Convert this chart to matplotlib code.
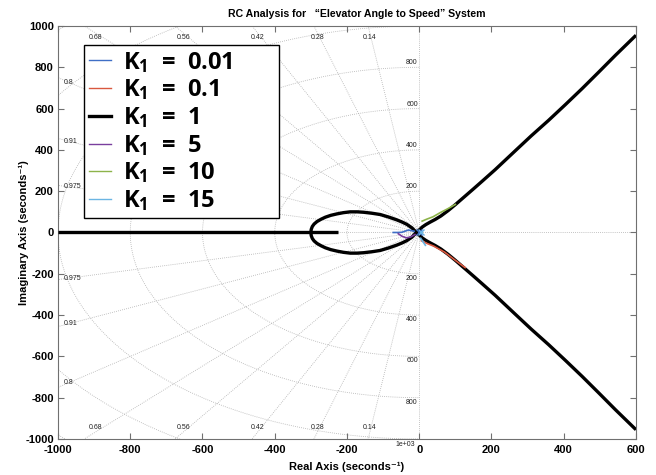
import numpy as np
import matplotlib
matplotlib.use("Agg")
import matplotlib.pyplot as plt
from matplotlib.lines import Line2D

plt.rcParams['mathtext.fontset'] = 'custom'
plt.rcParams['mathtext.rm'] = 'Open Sans:bold'
plt.rcParams['mathtext.bf'] = 'Open Sans:bold'
plt.rcParams['mathtext.it'] = 'Open Sans:bold'

# ---- axes ranges and ticks ----
x_ticks = [-1000, -800, -600, -400, -200, 0, 200, 400, 600]
y_ticks = [-1000, -800, -600, -400, -200, 0, 200, 400, 600, 800, 1000]

# ---- s-plane grid: damping ratios and natural frequencies ----
zeta_vals = [0.14, 0.28, 0.42, 0.56, 0.68, 0.8, 0.91, 0.975]
zeta_labels = ['0.14', '0.28', '0.42', '0.56', '0.68', '0.8', '0.91', '0.975']
wn_vals = [200, 400, 600, 800, 1000, 1200, 1400]
wn_text_vals = [200, 400, 600, 800]
wn_text = ['200', '400', '600', '800']

# ---- root locus, K1 = 1 ----
k1_real_x = [-1000, -225]
k1_real_y = [0, 0]
k1_loop_x = [-8, -20, -34, -48, -62, -85, -108, -130, -154, -172, -191,
             -210, -228, -245, -260, -272, -283, -291, -296, -299, -300]
k1_loop_y = [0, 22, 39, 51, 61, 75, 87, 93, 98, 100, 100,
             96, 90, 83, 74, 64, 53, 41, 29, 15, 0]
k1_branch_x = [-8, 0, 8, 18, 30, 44, 60, 80, 100, 125, 150, 174, 210,
               266, 310, 358, 405, 451, 497, 543, 600]
k1_branch_y = [0, 12, 26, 38, 50, 63, 80, 106, 135, 173, 211, 248, 304,
               396, 468, 543, 620, 697, 777, 858, 955]

# ---- root locus fragments for the other gains ----
k001_x = [-72, -60, -48, -30, -14]
k001_y = [0, 0, 1, 12, 6]
k01_x = [6, 20, 40, 70, 100, 127]
k01_y = [-40, -52, -66, -95, -135, -170]
k5_x = [-58, -48, -36, -24, -12]
k5_y = [-6, -18, -26, -22, -10]
k10_x = [8, 20, 38, 58, 80, 100]
k10_y = [55, 64, 76, 96, 116, 136]
k15_x = [4, 10, 17]
k15_y = [-28, -44, -62]

labels = [r"$\mathbf{K_1}$  =  0.01", r"$\mathbf{K_1}$  =  0.1", r"$\mathbf{K_1}$  =  1",
          r"$\mathbf{K_1}$  =  5", r"$\mathbf{K_1}$  =  10", r"$\mathbf{K_1}$  =  15"]
colors = ['#3f6fc6', '#d9583f', '#000000', '#7a3f9e', '#8db34a', '#6bb5e3']
widths = [1.0, 1.0, 2.4, 1.0, 1.0, 1.0]

fig = plt.figure(figsize=(6.56, 4.75), dpi=100)
ax = fig.add_axes([0.0884, 0.0758, 0.8811, 0.8695])
ax.set_xlim(-1000, 600)
ax.set_ylim(-1000, 1000)

grid_kw = dict(color='#b0b0b0', lw=0.6, ls=(0, (1, 1.5)), zorder=1)
lab_kw = dict(fontsize=5, family='Liberation Sans', color='#222222', zorder=2)

# damping-ratio rays in the left half plane
for z, lab in zip(zeta_vals, zeta_labels):
    slope = np.sqrt(1 - z**2) / z
    for sgn in (1, -1):
        x_end = max(-1000, -1000 / slope)
        ax.plot([0, x_end], [0, sgn * slope * -x_end], **grid_kw)
    if 1000 / slope <= 1000:
        xl = -0.965 * 1000 / slope
        for sgn in (1, -1):
            ax.text(xl, sgn * 944, lab, ha='center', va='center', **lab_kw)
    else:
        yl = 0.97 * 1000 * slope
        for sgn in (1, -1):
            ax.text(-985, sgn * yl, lab, ha='left', va='center', **lab_kw)

# natural-frequency arcs
th = np.linspace(np.pi / 2, 3 * np.pi / 2, 400)
for wn in wn_vals:
    ax.plot(wn * np.cos(th), wn * np.sin(th), **grid_kw)
for wn, lab in zip(wn_text_vals, wn_text):
    ax.text(-4, wn + 4, lab, ha='right', va='bottom', **lab_kw)
    ax.text(-4, -wn - 4, lab, ha='right', va='top', **lab_kw)
ax.text(-12, -1010, '1e+03', ha='right', va='top', clip_on=False, **lab_kw)

# real and imaginary axes
ax.axhline(0, **grid_kw)
ax.axvline(0, **grid_kw)

# K1 = 1 locus
kw1 = dict(color=colors[2], lw=widths[2], solid_capstyle='butt',
           solid_joinstyle='round', zorder=4)
ax.plot(k1_real_x, k1_real_y, **kw1)
ax.plot(k1_loop_x, k1_loop_y, **kw1)
ax.plot(k1_loop_x, [-v for v in k1_loop_y], **kw1)
ax.plot(k1_branch_x, k1_branch_y, **kw1)
ax.plot(k1_branch_x, [-v for v in k1_branch_y], **kw1)

# other gains
frag = [(k001_x, k001_y, 0), (k01_x, k01_y, 1), (k5_x, k5_y, 3),
        (k10_x, k10_y, 4), (k15_x, k15_y, 5)]
for xs, ys, i in frag:
    ax.plot(xs, ys, color=colors[i], lw=1.2, zorder=5)
ax.plot([0], [0], marker='x', ms=4, mew=1, color=colors[0], zorder=6)
ax.plot([6], [0], marker='x', ms=4, mew=1, color=colors[5], zorder=6)

# ticks and frame
ax.set_xticks(x_ticks)
ax.set_yticks(y_ticks)
ax.set_xticklabels([str(v) for v in x_ticks])
ax.set_yticklabels([str(v) for v in y_ticks])
ax.tick_params(direction='in', length=4, width=0.8, color='#707070',
               top=True, right=True, labelsize=8, pad=3)
ax.tick_params(axis='x', pad=4)
for t in ax.get_xticklabels() + ax.get_yticklabels():
    t.set_family('Liberation Sans')
    t.set_fontweight('bold')
for s in ax.spines.values():
    s.set_color('#707070')
    s.set_linewidth(0.8)

ax.set_xlabel('Real Axis (seconds\u207b\u00b9)', fontsize=8, fontweight='bold',
              family=['Liberation Sans', 'DejaVu Sans'], labelpad=5)
ax.set_ylabel('Imaginary Axis (seconds\u207b\u00b9)', fontsize=8, fontweight='bold',
              family=['Liberation Sans', 'DejaVu Sans'], labelpad=-3)
fig.text(0.544, 0.970, 'RC Analysis for   \u201cElevator Angle to Speed\u201d System',
         fontsize=7.6, fontweight='bold', family='Liberation Sans',
         ha='center', va='center')

handles = [Line2D([], [], color=c, lw=w) for c, w in zip(colors, widths)]
leg = ax.legend(handles, labels, loc='upper left',
                bbox_to_anchor=(0.045, 0.544, 0.337, 0.41), mode='expand',
                borderaxespad=0, fancybox=False, framealpha=1, edgecolor='black',
                prop=dict(family='Open Sans', weight='bold', size=17),
                handlelength=0.95, handletextpad=0.5, labelspacing=0.12,
                borderpad=0.2)
leg.get_frame().set_linewidth(1.0)
leg.set_zorder(10)

fig.savefig('out.png', dpi=100)
